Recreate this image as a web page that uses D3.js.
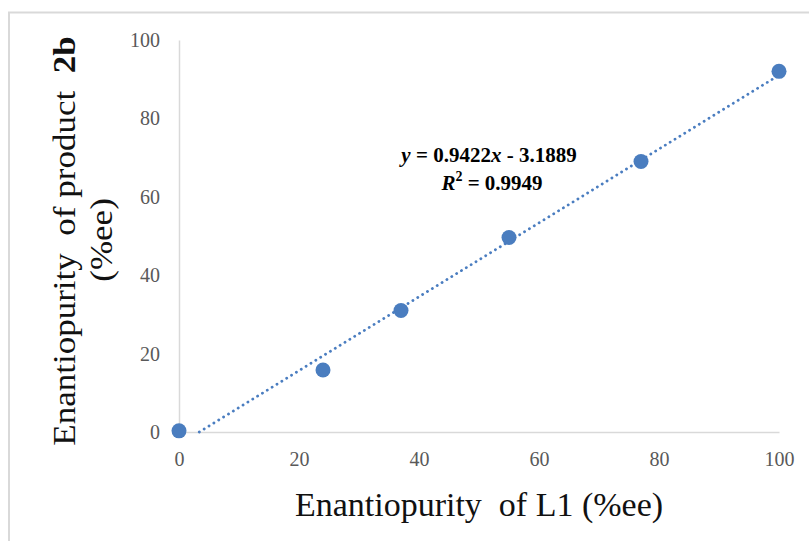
<!DOCTYPE html>
<html>
<head>
<meta charset="utf-8">
<script src="https://cdn.jsdelivr.net/npm/d3@7"></script>
<style>
  body { margin: 0; background: #fff; }
  text { font-family: "Liberation Serif", "Times New Roman", serif; }
</style>
</head>
<body>
<div id="chart"></div>
<script>
// data
const ligandEe = [0, 24, 37, 55, 77, 100]
const productEe = [0.3, 15.8, 31, 49.6, 69, 92]
const xTicks = [0, 20, 40, 60, 80, 100]
const yTicks = [0, 20, 40, 60, 80, 100]
const slope = 0.9422
const intercept = -3.1889
const r2 = '0.9949'

const width = 809
const height = 541
const margin = { left: 179, right: 30, top: 40, bottom: 109 }

const svg = d3.select('#chart')
  .append('svg')
  .attr('width', width)
  .attr('height', height)

// outer frame
svg.append('rect')
  .attr('x', 9)
  .attr('y', 12.5)
  .attr('width', 830)
  .attr('height', 560)
  .attr('fill', 'none')
  .attr('stroke', '#d9d9d9')
  .attr('stroke-width', 2)

const x = d3.scaleLinear().domain([0, 100]).range([margin.left, width - margin.right])
const y = d3.scaleLinear().domain([0, 100]).range([height - margin.bottom, margin.top])

// axes
const xAxis = svg.append('g')
  .attr('transform', `translate(0,${y(0)})`)
  .call(d3.axisBottom(x).tickValues(xTicks).tickSize(0).tickPadding(20))
const yAxis = svg.append('g')
  .attr('transform', `translate(${x(0)},0)`)
  .call(d3.axisLeft(y).tickValues(yTicks).tickSize(0).tickPadding(19))

;[xAxis, yAxis].forEach(g => {
  g.select('.domain').attr('stroke', '#d9d9d9').attr('stroke-width', 1.5)
  g.selectAll('text')
    .attr('font-family', '"Liberation Serif", serif')
    .attr('font-size', 20)
    .attr('fill', '#595959')
})

// trend line from where it crosses zero to x = 100
const x0 = -intercept / slope
const trend = [[x0, 0], [100, slope * 100 + intercept]]
svg.append('path')
  .datum(trend)
  .attr('d', d3.line().x(d => x(d[0])).y(d => y(d[1])))
  .attr('fill', 'none')
  .attr('stroke', '#4a7dc0')
  .attr('stroke-width', 2.8)
  .attr('stroke-linecap', 'round')
  .attr('stroke-dasharray', '0.1 5.6')

// points
svg.selectAll('circle.pt')
  .data(ligandEe)
  .enter()
  .append('circle')
  .attr('class', 'pt')
  .attr('cx', d => x(d))
  .attr('cy', (d, i) => y(productEe[i]))
  .attr('r', 7.5)
  .attr('fill', '#4a7dbf')

// equation
const eq = svg.append('text')
  .attr('x', 489)
  .attr('y', 162)
  .attr('text-anchor', 'middle')
  .attr('font-size', 21)
  .attr('font-weight', 'bold')
eq.append('tspan').attr('font-style', 'italic').text('y')
eq.append('tspan').text(` = ${slope}`)
eq.append('tspan').attr('font-style', 'italic').text('x')
eq.append('tspan').text(` - ${-intercept}`)

const rt = svg.append('text')
  .attr('x', 492)
  .attr('y', 190)
  .attr('text-anchor', 'middle')
  .attr('font-size', 21)
  .attr('font-weight', 'bold')
rt.append('tspan').attr('font-style', 'italic').text('R')
rt.append('tspan').attr('font-size', 14).attr('dy', -9).text('2')
rt.append('tspan').attr('dy', 9).text(` = ${r2}`)

// axis titles
svg.append('text')
  .attr('x', 479)
  .attr('y', 516)
  .attr('text-anchor', 'middle')
  .attr('font-size', 34)
  .attr('fill', '#111')
  .style('white-space', 'pre')
  .text('Enantiopurity  of L1 (%ee)')

const yt = svg.append('text')
  .attr('transform', 'translate(75,241) rotate(-90) scale(1.13,1)')
  .attr('text-anchor', 'middle')
  .attr('font-size', 31)
  .attr('fill', '#111')
  .style('white-space', 'pre')
yt.append('tspan').text('Enantiopurity  of product  ')
yt.append('tspan').attr('font-weight', 'bold').text('2b')

svg.append('text')
  .attr('transform', 'translate(112,240) rotate(-90) scale(1.13,1)')
  .attr('text-anchor', 'middle')
  .attr('font-size', 31)
  .attr('fill', '#111')
  .text('(%ee)')
</script>
</body>
</html>
